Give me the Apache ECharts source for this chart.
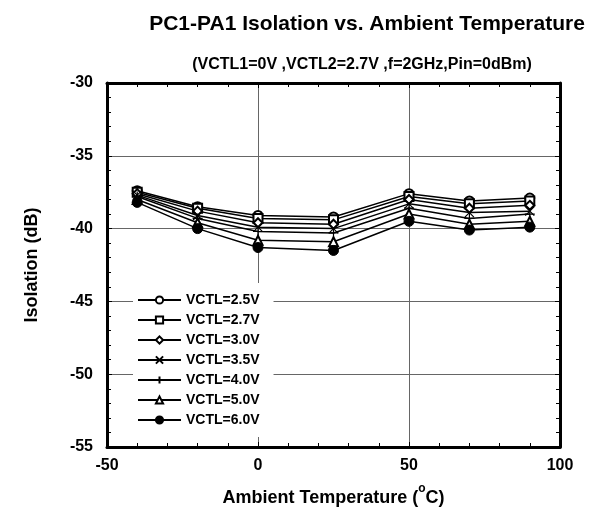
<!DOCTYPE html>
<html>
<head>
<meta charset="utf-8">
<script src="https://cdn.jsdelivr.net/npm/echarts@6/dist/echarts.min.js"></script>
<style>html,body{margin:0;padding:0;background:#fff;}#c{width:591px;height:512px;}</style>
</head>
<body>
<div id="c"></div>
<script>
const temps = [-40, -20, 0, 25, 50, 70, 90];
const seriesNames = ['VCTL=2.5V','VCTL=2.7V','VCTL=3.0V','VCTL=3.5V','VCTL=4.0V','VCTL=5.0V','VCTL=6.0V'];
const v25 = [-37.4, -38.5, -39.1, -39.2, -37.6, -38.1, -37.9];
const v27 = [-37.5, -38.6, -39.3, -39.4, -37.8, -38.3, -38.1];
const v30 = [-37.6, -38.8, -39.6, -39.7, -38.0, -38.6, -38.4];
const v35 = [-37.7, -39.1, -39.9, -40.0, -38.3, -38.9, -38.8];
const v40 = [-37.8, -39.3, -40.2, -40.3, -38.6, -39.3, -39.0];
const v50 = [-38.0, -39.6, -40.8, -40.9, -39.0, -39.7, -39.5];
const v60 = [-38.2, -40.0, -41.3, -41.5, -39.5, -40.1, -39.9];
const xTicks = [-50, 0, 50, 100];
const yTicks = [-55, -50, -45, -40, -35, -30];

const allVals = [v25, v27, v30, v35, v40, v50, v60];
const symbols = ['emptyCircle','emptyRect','emptyDiamond','path://M0,0L10,10M10,0L0,10','path://M5,0L5,10M0,5L10,5','emptyTriangle','circle'];
const sizes = [9, 9, 9, 9, 10, 9, 10];
const FONT = '"Liberation Sans", Arial, sans-serif';

const series = allVals.map((vals, i) => ({
  name: seriesNames[i],
  type: 'line',
  data: temps.map((t, j) => [t, vals[j]]),
  symbol: symbols[i],
  symbolSize: sizes[i],
  showAllSymbol: true,
  lineStyle: { color: '#000', width: 1.5 },
  itemStyle: { color: '#000', borderColor: '#000', borderWidth: (i === 3 || i === 4) ? 1.2 : 1 },
  emphasis: { disabled: true },
  z: 3
}));

const axisCommon = {
  axisLine: { onZero: false, lineStyle: { color: '#000', width: 3 } },
  axisTick: { inside: true, length: 5, lineStyle: { color: '#000', width: 1 } },
  minorTick: { show: true, splitNumber: 5, length: 4, lineStyle: { color: '#000', width: 1 } }
};

const chart = echarts.init(document.getElementById('c'), null, { renderer: 'canvas' });
chart.setOption({
  animation: false,
  backgroundColor: '#fff',
  title: [
    { text: 'PC1-PA1 Isolation vs. Ambient Temperature', left: 362, top: 9, textAlign: 'center',
      textStyle: { fontFamily: FONT, fontWeight: 'bold', fontSize: 21, color: '#000' } },
    { text: '(VCTL1=0V ,VCTL2=2.7V ,f=2GHz,Pin=0dBm)', left: 357, top: 52, textAlign: 'center',
      textStyle: { fontFamily: FONT, fontWeight: 'bold', fontSize: 16, color: '#000' } }
  ],
  grid: { left: 107, right: 31, top: 83, bottom: 63, containLabel: false },
  legend: {
    orient: 'vertical', left: 133, top: 283,
    padding: [10, 14, 10, 4],
    backgroundColor: '#fff',
    itemWidth: 43, itemHeight: 9, itemGap: 6,
    data: seriesNames,
    textStyle: { fontFamily: FONT, fontWeight: 'bold', fontSize: 14, color: '#000' },
    z: 2
  },
  xAxis: [Object.assign({}, axisCommon, {
    type: 'value', min: xTicks[0], max: xTicks[xTicks.length - 1], interval: 50,
    name: '{a|Ambient Temperature (}{sup|o}{a|C)}', nameLocation: 'middle', nameGap: 36,
    nameTextStyle: { fontFamily: FONT, fontWeight: 'bold', fontSize: 18, color: '#000',
      rich: {
        a: { fontFamily: FONT, fontWeight: 'bold', fontSize: 18, lineHeight: 24, verticalAlign: 'bottom', color: '#000' },
        sup: { fontFamily: FONT, fontWeight: 'bold', fontSize: 12, lineHeight: 12, verticalAlign: 'top', color: '#000' }
      } },
    axisLabel: { fontFamily: FONT, fontWeight: 'bold', fontSize: 16, color: '#000', margin: 11 },
    splitLine: { show: true, lineStyle: { color: '#666', width: 1 } }
  }), Object.assign({}, axisCommon, {
    type: 'value', position: 'top', min: -50, max: 100, interval: 50,
    axisLabel: { show: false }, splitLine: { show: false }
  })],
  yAxis: [Object.assign({}, axisCommon, {
    type: 'value', min: yTicks[0], max: yTicks[yTicks.length - 1], interval: 5,
    name: 'Isolation (dB)', nameLocation: 'middle', nameGap: 66, nameRotate: 90,
    nameTextStyle: { fontFamily: FONT, fontWeight: 'bold', fontSize: 18, color: '#000' },
    axisLabel: { fontFamily: FONT, fontWeight: 'bold', fontSize: 16, color: '#000', margin: 14 },
    splitLine: { show: true, lineStyle: { color: '#666', width: 1 } }
  }), Object.assign({}, axisCommon, {
    type: 'value', position: 'right', min: -55, max: -30, interval: 5,
    axisLabel: { show: false }, splitLine: { show: false }
  })],
  series: series
});
</script>
</body>
</html>
